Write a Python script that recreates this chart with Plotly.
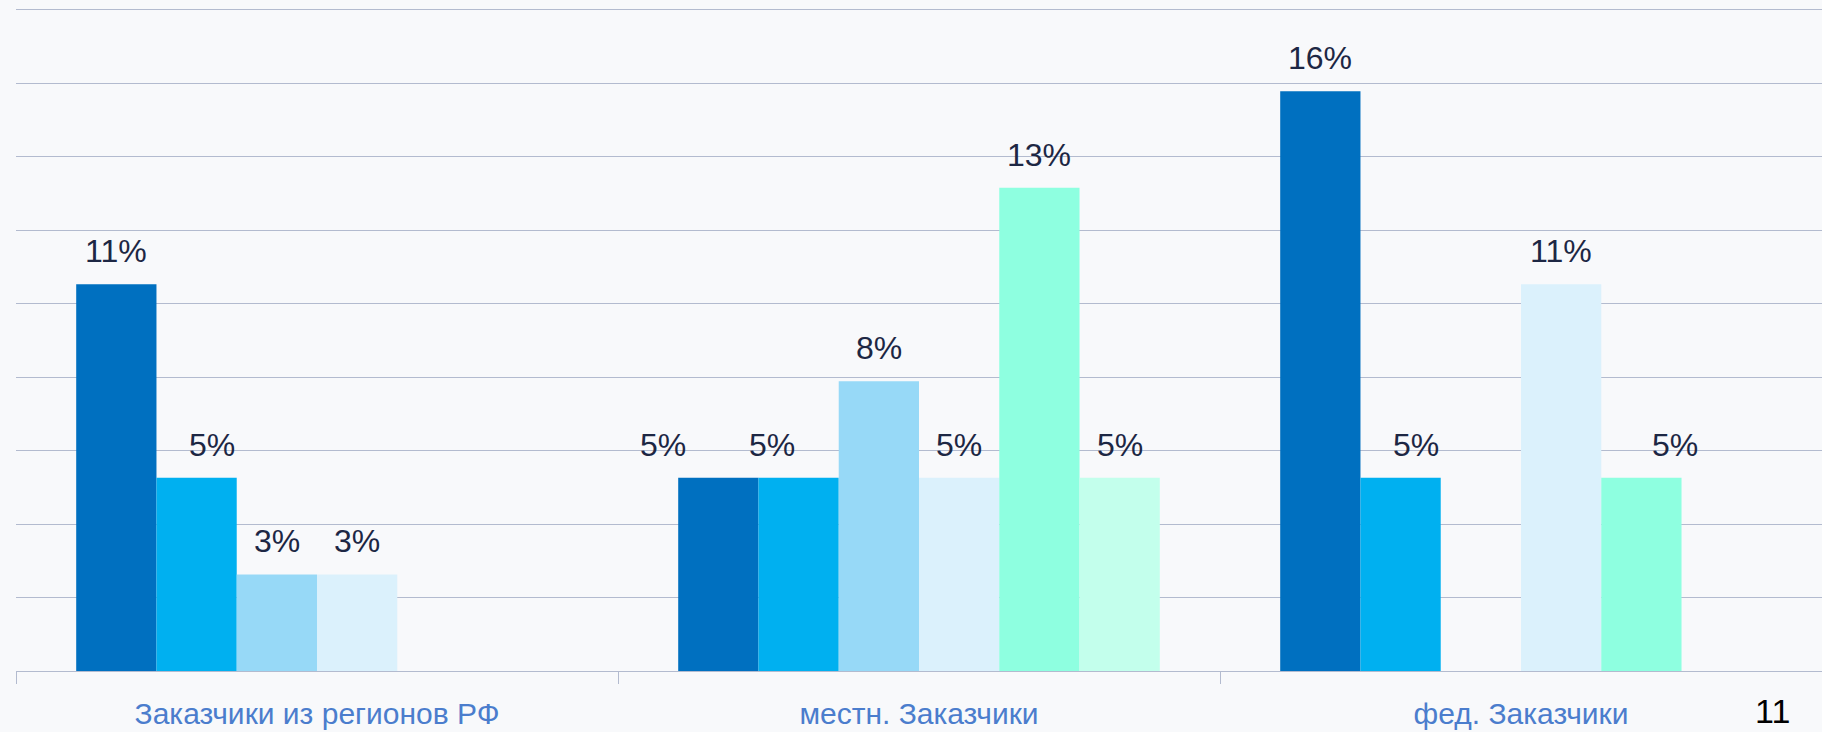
import plotly.graph_objects as go

# Share of respondents (%) by customer type, six answer options per group
categories = ["Заказчики из регионов РФ", "местн. Заказчики", "фед. Заказчики"]

series_1 = [10.53, 5.26, 15.79]
series_2 = [5.26, 5.26, 5.26]
series_3 = [2.63, 7.89, None]
series_4 = [2.63, 5.26, 10.53]
series_5 = [None, 13.16, 5.26]
series_6 = [None, 5.26, None]

series = [series_1, series_2, series_3, series_4, series_5, series_6]
series_names = ["Вариант 1", "Вариант 2", "Вариант 3", "Вариант 4", "Вариант 5", "Вариант 6"]
colors = ["#0070C0", "#00B0F0", "#97D9F7", "#DBF1FC", "#8EFFE0", "#C3FFEC"]

# Small horizontal nudges (px) for value labels that were moved aside
label_nudge = {(0, 1): 15, (1, 0): -55, (1, 1): -27, (2, 1): 15, (2, 4): 34}

BARGAP = 0.2
LABEL_FONT = "Liberation Sans, Arial, sans-serif"
GRID = "#B3BBCF"

fig = go.Figure()
for name, vals, col in zip(series_names, series, colors):
    fig.add_trace(go.Bar(
        x=categories, y=vals, name=name,
        marker=dict(color=col, line=dict(width=0)),
        showlegend=False, hoverinfo="skip",
    ))

# Value labels above each bar, placed at the bar's slot inside its group
n = len(series)
slot = (1 - BARGAP) / n
annotations = []
for si, vals in enumerate(series):
    for ci, v in enumerate(vals):
        if v is None:
            continue
        xc = ci - (1 - BARGAP) / 2 + (si + 0.5) * slot
        annotations.append(dict(
            x=xc, y=v, xref="x", yref="y",
            text=f"{v:.0f}%", showarrow=False,
            xanchor="center", yanchor="bottom",
            yshift=13, xshift=label_nudge.get((ci, si), 0),
            font=dict(family=LABEL_FONT, size=32, color="#1D2744"),
        ))

# Slide page number
annotations.append(dict(
    x=0.9725, y=-61 / 661, xref="paper", yref="paper",
    text="11", showarrow=False, xanchor="center", yanchor="bottom",
    font=dict(family=LABEL_FONT, size=34, color="#000000"),
))

fig.update_layout(
    width=1822, height=732,
    margin=dict(l=16, r=0, t=10, b=61),
    barmode="group", bargap=BARGAP, bargroupgap=0,
    paper_bgcolor="#F8F9FB", plot_bgcolor="#F8F9FB",
    annotations=annotations,
    xaxis=dict(
        type="category", tickson="boundaries",
        ticks="outside", ticklen=12, tickcolor=GRID, tickwidth=1,
        showline=True, linecolor=GRID, linewidth=1, mirror=True,
        showgrid=False, zeroline=False,
        ticklabelstandoff=16,
        tickfont=dict(family=LABEL_FONT, size=30, color="#4B7DCD"),
    ),
    yaxis=dict(
        range=[0, 18], dtick=2, showticklabels=False,
        showgrid=True, gridcolor=GRID, gridwidth=1,
        zeroline=False, showline=False, ticks="",
    ),
)

fig.write_html("out.html")
